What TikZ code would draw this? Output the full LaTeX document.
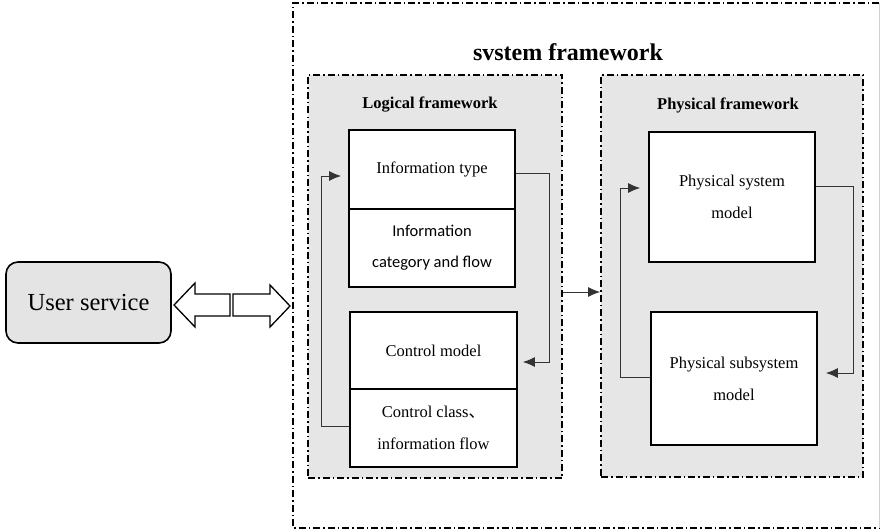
\documentclass[tikz,border=0pt]{standalone}
\usepackage{fontspec}
\setmainfont{Liberation Serif}
\newfontfamily\calib{Carlito}
\newfontfamily\cjk{Noto Sans CJK SC}
\usetikzlibrary{arrows.meta,calc}
\definecolor{panelgray}{HTML}{E6E6E6}
\definecolor{usergray}{HTML}{E4E4E4}
\begin{document}
\begin{tikzpicture}[x=1pt,y=-1pt,
  dashdot/.style={line width=1.7pt,dash pattern=on 7pt off 3pt on 1.5pt off 3pt},
  panel/.style={draw,dashdot,fill=panelgray,inner sep=0pt},
  unitbox/.style={draw,line width=1.8pt,fill=white,inner sep=0pt,align=center},
  unittext/.style={font=\fontsize{16.5}{32}\selectfont},
  conn/.style={draw=black!80,line width=0.9pt},
  tip/.style={-{Latex[length=12pt,width=10pt]}},
  blockarrow/.style={draw,line width=1.3pt,fill=white,line join=miter}]
\useasboundingbox (0,0) rectangle (883,532);

% outer system frame
\draw[dashdot] (879,3) -- (293,3) -- (293,528) -- (879,528);
\draw[gray!35,line width=0.8pt] (879,3) -- (879,528);
\node[font=\bfseries\fontsize{24}{28}\selectfont] (title) at (568,52) {svstem framework};

% the two framework panels
\node[panel,minimum width=254pt,minimum height=403pt] (logical) at (435,276.5) {};
\node[panel,minimum width=262pt,minimum height=402pt] (physical) at (732,276) {};
\node[font=\bfseries\fontsize{16.5}{19}\selectfont] (loglabel) at (430,105) {Logical framework};
\node[font=\bfseries\fontsize{16.5}{19}\selectfont] (phylabel) at (728,105) {Physical framework};

% logical framework units
\node[unitbox,unittext,minimum width=166pt,minimum height=79pt] (infotype) at (432,169.5) {Information type};
\node[unitbox,minimum width=166pt,minimum height=78pt,font=\calib\fontsize{16.5}{31}\selectfont] (infocat) at (432,248) {Information\\category and flow};
\node[unitbox,unittext,minimum width=167pt,minimum height=77pt] (ctrlmodel) at (433.5,350.5) {Control model};
\node[unitbox,unittext,minimum width=167pt,minimum height=78pt] (ctrlclass) at (433.5,428) {Control class{\cjk 、}\\information flow};

% physical framework units
\node[unitbox,unittext,minimum width=166pt,minimum height=130pt] (physsys) at (732,197) {Physical system\\model};
\node[unitbox,unittext,minimum width=166pt,minimum height=133pt] (physsub) at (734,378.5) {Physical subsystem\\model};

% user service with its two-way block arrow
\node[draw,line width=1.6pt,fill=usergray,rounded corners=12pt,minimum width=165pt,minimum height=81pt,font=\fontsize{24.5}{28}\selectfont] (user) at (88.5,302.5) {User service};
\draw[blockarrow] (174,305) -- (195,283) -- (195,294) -- (230,294) -- (230,316) -- (195,316) -- (195,327) -- cycle;
\draw[blockarrow] (233,294) -- (270,294) -- (270,285) -- (290,306) -- (270,327) -- (270,316) -- (233,316) -- cycle;

% feedback loops and flow between frameworks
\draw[conn,tip] ([yshift=-3.5pt]infotype.east) -- ++(34,0) |- ([xshift=5pt,yshift=-11.5pt]ctrlmodel.east);
\draw[conn,tip] ([yshift=2pt]ctrlclass.west) -- ++(-28,0) |- ([xshift=-7pt,yshift=-6.5pt]infotype.west);
\draw[conn,tip] ([yshift=-15.5pt]logical.east) -- ([yshift=-16pt]physical.west);
\draw[conn,tip] ([yshift=11pt]physsys.east) -- ++(38,0) |- ([xshift=8pt,yshift=5.5pt]physsub.east);
\draw[conn,tip] ([yshift=1.5pt]physsub.west) -- ++(-30,0) |- ([xshift=-8pt,yshift=9pt]physsys.west);
\end{tikzpicture}
\end{document}
